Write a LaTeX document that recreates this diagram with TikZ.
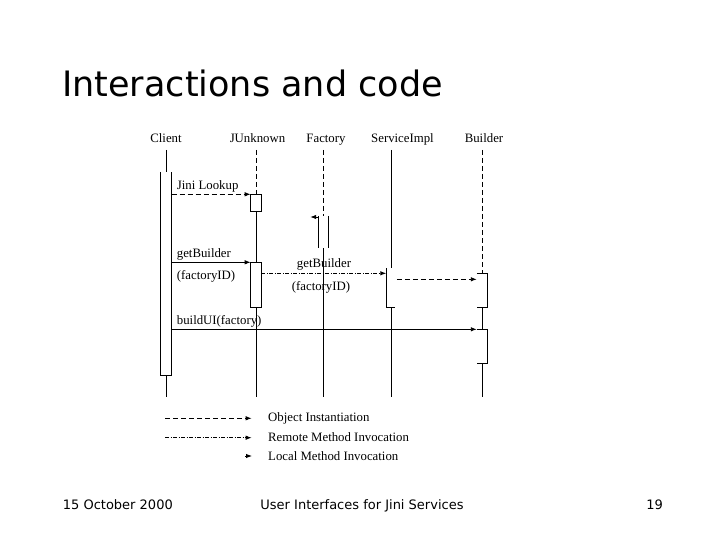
\documentclass[tikz,border=0pt]{standalone}
\usepackage{fontspec}
\setmainfont{Liberation Serif}
\newfontfamily\slidefont{DejaVu Sans}
\usetikzlibrary{arrows.meta}

\begin{document}
\begin{tikzpicture}[x=1pt, y=-1pt,
    seqtext/.style={font=\fontsize{12.8}{14}\selectfont, inner sep=0pt},
    slidetext/.style={font=\slidefont\fontsize{13}{16}\selectfont, inner sep=0pt},
    actarea/.style={minimum width=10.6pt, inner sep=0pt, outer sep=0pt},
    actbox/.style={actarea, draw, line width=0.9pt},
    life/.style={line width=0.9pt},
    lifedash/.style={life, dash pattern=on 5pt off 3pt},
    localcall/.style={line width=0.9pt, -{Latex[length=6pt, width=4.5pt]}},
    newobj/.style={localcall, dash pattern=on 5pt off 3pt},
    remotecall/.style={localcall, dash pattern=on 4pt off 1.5pt on 1pt off 1.5pt}]
    \useasboundingbox (0,0) rectangle (720,540);
    % Title
    \node[anchor=base west, inner sep=0pt, font=\slidefont\fontsize{35}{42}\selectfont]
        (Title) at (62,96.7) {Interactions and code};

    % Objects
    \node[seqtext, anchor=base] (Client) at (166,142.3) {Client};
    \node[seqtext, anchor=base] (JUnknown) at (257.5,142.3) {JUnknown};
    \node[seqtext, anchor=base] (Factory) at (326,142.3) {Factory};
    \node[seqtext, anchor=base] (ServiceImpl) at (402.5,142.3) {ServiceImpl};
    \node[seqtext, anchor=base] (Builder) at (484,142.3) {Builder};
    \coordinate (Top) at (0,150);
    \coordinate (Bottom) at (0,397);

    % Activations
    \node[actarea, minimum height=203.7pt] (ClientAct) at (166.2,273.85) {};
    \node[actbox, minimum height=16.7pt] (JUnknownAct1) at (256,202.65) {};
    \node[actbox, minimum height=44.7pt] (JUnknownAct2) at (256,284.65) {};
    \node[actarea, minimum height=32pt] (FactoryAct) at (323.5,232) {};
    \node[actarea, minimum height=38.7pt] (ServiceImplAct) at (391.6,287.65) {};
    \node[actarea, minimum height=33.7pt] (BuilderAct1) at (482.1,290.15) {};
    \node[actarea, minimum height=34pt] (BuilderAct2) at (482.1,346.3) {};
    \draw[life] (ClientAct.north west) -- (ClientAct.south west)
        -- (ClientAct.south east) -- (ClientAct.north east);
    \draw[life] (FactoryAct.north west) -- (FactoryAct.south west);
    \draw[life] (FactoryAct.north east) -- (FactoryAct.south east);
    \draw[life] (ServiceImplAct.north west) -- (ServiceImplAct.south west)
        -- ([xshift=-1.5pt]ServiceImplAct.south east);
    \draw[life] (BuilderAct1.north west) -- (BuilderAct1.north east)
        -- (BuilderAct1.south east) -- (BuilderAct1.south west);
    \draw[life] (BuilderAct2.north west) -- (BuilderAct2.north east)
        -- (BuilderAct2.south east) -- (BuilderAct2.south west);

    % Lifelines
    \draw[life] (ClientAct.north |- Top) -- (ClientAct.north);
    \draw[life] (ClientAct.south) -- (ClientAct.south |- Bottom);
    \draw[lifedash] (JUnknownAct1.north |- Top) -- (JUnknownAct1.north);
    \draw[life] (JUnknownAct1.south) -- (JUnknownAct2.north);
    \draw[life] (JUnknownAct2.south) -- (JUnknownAct2.south |- Bottom);
    \draw[lifedash] (FactoryAct.north |- Top) -- (FactoryAct.north);
    \draw[life] (FactoryAct.south) -- (FactoryAct.south |- Bottom);
    \draw[life] (ServiceImplAct.north |- Top) -- (ServiceImplAct.north);
    \draw[life] (ServiceImplAct.south) -- (ServiceImplAct.south |- Bottom);
    \draw[lifedash] (BuilderAct1.north |- Top) -- (BuilderAct1.north);
    \draw[life] (BuilderAct1.south) -- (BuilderAct2.north);
    \draw[life] (BuilderAct2.south) -- (BuilderAct2.south |- Bottom);

    % Messages
    \draw[newobj] (ClientAct.east |- JUnknownAct1.north) -- (JUnknownAct1.north west);
    \node[seqtext, anchor=base west] (JiniLookup) at (176.7,189.3) {Jini Lookup};
    \draw[localcall] (FactoryAct.west |- 0,217) -- ++(-8,0);
    \draw[localcall] (ClientAct.east |- JUnknownAct2.north) -- (JUnknownAct2.north west);
    \node[seqtext, anchor=base west] (GetBuilder) at (176.7,257.3) {getBuilder};
    \node[seqtext, anchor=base west] (FactoryID) at (176.7,279.3) {(factoryID)};
    \draw[remotecall] (JUnknownAct2.east |- 0,273.3) -- (ServiceImplAct.west |- 0,273.3);
    \node[seqtext, anchor=base] (RemoteGetBuilder) at (324,267.3) {getBuilder};
    \node[seqtext, anchor=base] (RemoteFactoryID) at (321,290) {(factoryID)};
    \draw[newobj] (ServiceImplAct.east |- 0,279.3) -- (BuilderAct1.west |- 0,279.3);
    \draw[localcall] (ClientAct.east |- BuilderAct2.north) -- (BuilderAct2.north west);
    \node[seqtext, anchor=base west] (BuildUI) at (176.7,324.3) {buildUI(factory)};

    % Legend
    \coordinate (LegendObj) at (165,418.3);
    \coordinate (LegendRemote) at (165,437.7);
    \coordinate (LegendLocal) at (245,456);
    \draw[newobj] (LegendObj) -- (LegendObj -| 251.7,0);
    \draw[remotecall] (LegendRemote) -- (LegendRemote -| 251.7,0);
    \draw[localcall] (LegendLocal) -- (LegendLocal -| 252,0);
    \node[seqtext, anchor=base west] (ObjText) at (268,421.7) {Object Instantiation};
    \node[seqtext, anchor=base west] (RemoteText) at (268,441.7) {Remote Method Invocation};
    \node[seqtext, anchor=base west] (LocalText) at (268,460) {Local Method Invocation};

    % Footer
    \node[slidetext, anchor=base west] (Date) at (62.7,509) {15 October 2000};
    \node[slidetext, anchor=base] (Course) at (362,509) {User Interfaces for Jini Services};
    \node[slidetext, anchor=base east] (PageNo) at (663,509) {19};
\end{tikzpicture}
\end{document}
